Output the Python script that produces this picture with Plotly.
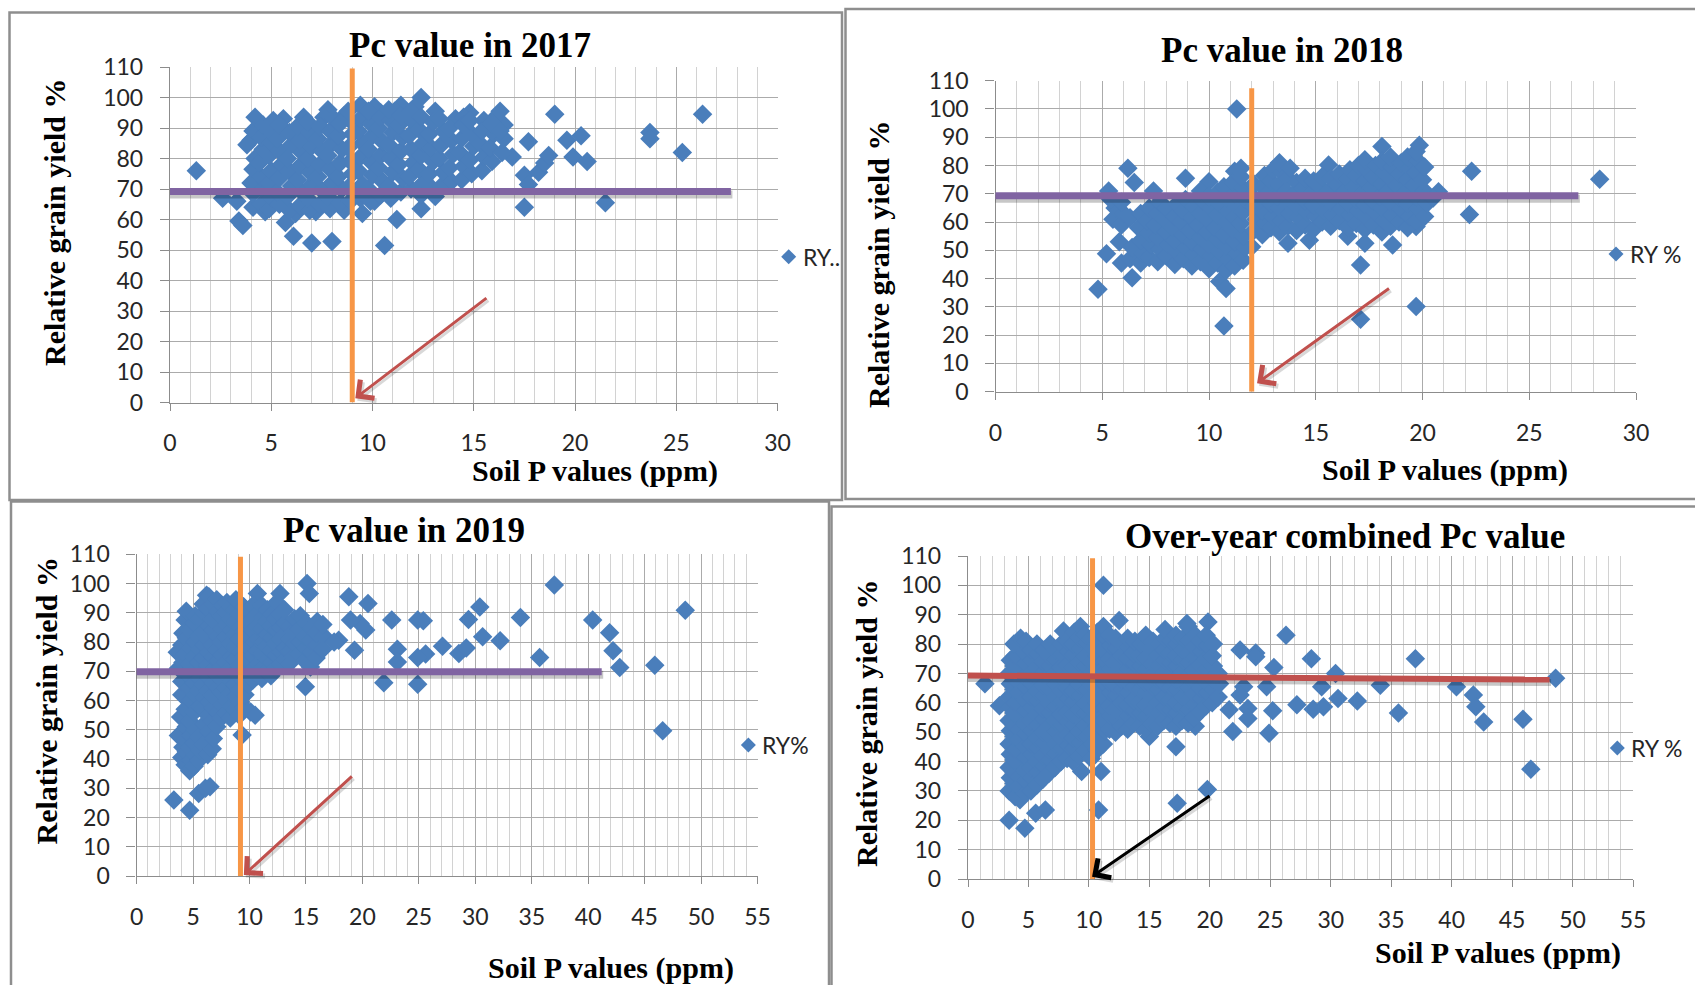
import plotly.graph_objects as go

W, H = 1695, 985

# ---------------------------------------------------------------
# Data: (soil P value in ppm, relative grain yield in %)
# ---------------------------------------------------------------
ry_2017 = [
    (1.3, 76.0), (2.6, 67.0), (3.3, 66.0), (3.4, 59.5), (3.6, 58.0), (3.8, 84.5), (4.0, 86.0), (4.2, 93.5),
    (5.7, 59.0), (6.1, 54.5), (7.0, 52.3), (8.0, 52.8), (7.8, 96.0), (9.4, 97.5), (10.4, 95.0), (11.4, 97.5),
    (12.4, 100.0), (9.5, 62.0), (10.6, 51.5), (11.2, 60.0), (12.4, 63.5), (13.1, 67.5), (14.1, 93.0), (14.8, 95.0),
    (16.3, 95.5), (16.5, 91.0), (16.9, 80.5), (17.5, 74.5), (17.7, 71.5), (17.5, 64.0), (17.7, 85.5), (18.2, 75.5),
    (18.5, 78.5), (18.7, 81.0), (19.0, 94.5), (19.6, 86.0), (19.9, 80.5), (20.3, 87.5), (20.6, 79.0), (21.5, 65.5),
    (23.7, 88.5), (23.7, 86.5), (25.3, 82.0), (26.3, 94.5),
    (5.6, 93.0), (6.6, 93.5), (7.6, 93.5), (8.6, 94.0), (10.1, 97.0), (11.1, 95.5), (12.1, 97.0), (13.1, 95.5),
    (14.5, 93.5), (15.5, 92.5), (16.0, 93.0), (4.7, 62.5), (6.2, 62.0), (7.2, 62.5), (8.6, 63.0), (10.1, 66.0),
    (4.1, 64.0), (4.1, 68.5), (4.0, 72.0), (4.1, 76.5), (4.2, 80.0), (4.1, 89.0),
    (4.5, 65.0), (4.6, 70.0), (4.5, 74.0), (4.4, 78.5), (4.6, 83.0), (4.5, 87.0), (4.6, 91.0),
    (4.9, 63.5), (5.0, 67.0), (4.9, 72.0), (5.0, 76.0), (4.9, 81.0), (5.0, 85.0), (4.9, 89.5), (5.1, 92.5),
    (5.4, 65.0), (5.3, 69.0), (5.4, 73.5), (5.5, 78.0), (5.4, 82.5), (5.3, 86.5), (5.4, 91.0),
    (5.9, 63.0), (5.8, 67.5), (6.0, 71.0), (5.9, 76.0), (5.8, 80.0), (6.0, 84.5), (5.9, 88.5),
    (6.4, 64.5), (6.5, 69.0), (6.3, 73.0), (6.4, 77.5), (6.5, 82.0), (6.4, 86.0), (6.3, 90.5),
    (6.9, 63.0), (6.8, 67.0), (7.0, 71.5), (6.9, 75.5), (6.8, 80.0), (7.0, 84.0), (6.9, 88.5), (6.8, 92.0),
    (7.4, 65.0), (7.5, 69.5), (7.3, 74.0), (7.4, 78.0), (7.5, 82.5), (7.3, 86.5), (7.4, 90.5),
    (7.9, 63.5), (7.8, 67.5), (8.0, 72.0), (7.9, 76.5), (7.8, 81.0), (8.0, 85.0), (7.9, 89.0), (8.1, 93.0),
    (8.4, 65.5), (8.5, 70.0), (8.3, 74.0), (8.4, 78.5), (8.5, 83.0), (8.3, 87.5), (8.4, 91.5),
    (8.9, 66.0), (8.8, 70.5), (9.0, 75.0), (8.9, 79.0), (8.8, 83.5), (9.0, 88.0), (8.9, 92.5), (8.8, 95.5),
    (9.4, 67.0), (9.5, 71.5), (9.3, 76.0), (9.4, 80.5), (9.5, 85.0), (9.3, 89.0), (9.4, 93.0),
    (9.9, 66.0), (9.8, 70.0), (10.0, 74.5), (9.9, 79.0), (9.8, 83.0), (10.0, 87.5), (9.9, 91.5), (9.8, 95.5),
    (10.4, 68.0), (10.5, 72.5), (10.3, 77.0), (10.4, 81.0), (10.5, 85.5), (10.3, 90.0), (10.4, 93.5),
    (10.9, 67.0), (10.8, 71.0), (11.0, 75.5), (10.9, 80.0), (10.8, 84.5), (11.0, 88.5), (10.9, 92.5), (10.8, 96.0),
    (11.4, 69.0), (11.5, 73.5), (11.3, 78.0), (11.4, 82.5), (11.5, 87.0), (11.3, 91.0), (11.4, 94.0),
    (11.9, 70.0), (11.8, 74.0), (12.0, 78.5), (11.9, 83.0), (11.8, 87.5), (12.0, 92.0), (11.9, 95.5),
    (12.4, 68.0), (12.5, 72.0), (12.3, 76.5), (12.4, 81.0), (12.5, 85.0), (12.3, 89.5), (12.4, 93.5),
    (12.9, 70.5), (12.8, 75.0), (13.0, 79.0), (12.9, 83.5), (12.8, 88.0), (13.0, 92.0),
    (13.4, 71.0), (13.5, 75.5), (13.3, 80.0), (13.4, 84.5), (13.5, 89.0), (13.3, 93.0),
    (13.9, 72.5), (13.8, 77.0), (14.0, 81.5), (13.9, 86.0), (13.8, 90.0),
    (14.4, 73.0), (14.5, 77.5), (14.3, 82.0), (14.4, 86.5), (14.5, 91.0),
    (14.9, 75.0), (14.8, 79.5), (15.0, 84.0), (14.9, 88.0), (14.8, 92.5),
    (15.4, 76.0), (15.5, 80.5), (15.3, 85.0), (15.4, 89.0),
    (15.9, 79.0), (15.8, 83.5), (16.0, 88.0), (15.9, 91.5),
    (16.4, 82.0), (16.5, 86.5), (16.3, 89.0),
]

ry_2018 = [
    (4.8, 36.2), (5.2, 48.8), (5.3, 71.0), (5.9, 45.5), (5.8, 53.0), (6.2, 79.0), (6.5, 74.0), (6.4, 40.3),
    (7.4, 71.0), (8.9, 75.5), (10.0, 74.3), (10.5, 39.0), (10.8, 36.5), (10.7, 23.2), (11.3, 100.0), (11.2, 78.0),
    (11.5, 79.0), (12.0, 51.3), (13.7, 52.5), (14.7, 53.6), (15.6, 80.2), (16.5, 55.0), (17.1, 44.8), (17.3, 52.5),
    (17.1, 25.6), (18.1, 86.7), (18.6, 51.9), (19.7, 58.4), (19.7, 30.1), (19.85, 87.2), (20.75, 70.7), (22.3, 78.0),
    (22.2, 62.7), (28.3, 75.1),
    (5.5, 61.0), (5.6, 65.0), (5.4, 68.0),
    (5.9, 59.0), (6.0, 63.0), (5.9, 67.0),
    (6.3, 47.0), (6.4, 51.0), (6.3, 61.5),
    (6.8, 45.5), (6.9, 49.0), (6.8, 53.5), (6.7, 58.0), (6.8, 63.0),
    (7.2, 47.5), (7.3, 52.0), (7.2, 56.0), (7.1, 60.5), (7.2, 65.0),
    (7.6, 46.0), (7.7, 50.5), (7.6, 54.5), (7.5, 59.0), (7.6, 63.0), (7.7, 67.0),
    (8.0, 48.0), (8.1, 52.0), (8.0, 56.5), (7.9, 61.0), (8.0, 65.0),
    (8.4, 45.0), (8.5, 49.5), (8.4, 53.5), (8.3, 58.0), (8.4, 62.0), (8.5, 66.5),
    (8.8, 47.0), (8.9, 51.0), (8.8, 55.5), (8.7, 60.0), (8.8, 64.0), (8.9, 68.0),
    (9.2, 44.5), (9.3, 48.5), (9.2, 53.0), (9.1, 57.0), (9.2, 61.5), (9.3, 65.5),
    (9.6, 46.0), (9.7, 50.5), (9.6, 54.5), (9.5, 59.0), (9.6, 63.0), (9.7, 67.5), (9.6, 71.0),
    (10.0, 43.5), (10.1, 48.0), (10.0, 52.0), (9.9, 56.5), (10.0, 60.5), (10.1, 65.0), (10.0, 69.0),
    (10.4, 45.5), (10.5, 49.5), (10.4, 54.0), (10.3, 58.0), (10.4, 62.5), (10.5, 66.5), (10.4, 70.5),
    (10.8, 43.0), (10.9, 47.0), (10.8, 51.5), (10.7, 55.5), (10.8, 60.0), (10.9, 64.0), (10.8, 68.5), (10.7, 72.5),
    (11.2, 44.5), (11.3, 49.0), (11.2, 53.0), (11.1, 57.5), (11.2, 61.5), (11.3, 66.0), (11.2, 70.0), (11.1, 74.0),
    (11.6, 46.5), (11.7, 51.0), (11.6, 55.0), (11.5, 59.5), (11.6, 63.5), (11.7, 68.0), (11.6, 72.0), (11.5, 76.0),
    (12.1, 57.0), (12.2, 61.0), (12.1, 65.5), (12.0, 69.5), (12.1, 73.5),
    (12.5, 55.5), (12.6, 59.5), (12.5, 64.0), (12.4, 68.0), (12.5, 72.5), (12.6, 76.5),
    (12.9, 58.0), (13.0, 62.0), (12.9, 66.5), (12.8, 70.5), (12.9, 74.5), (13.0, 78.5),
    (13.3, 56.5), (13.4, 60.5), (13.3, 65.0), (13.2, 69.0), (13.3, 73.0), (13.4, 77.5), (13.3, 81.0),
    (13.7, 58.5), (13.8, 63.0), (13.7, 67.0), (13.6, 71.0), (13.7, 75.5), (13.8, 79.0),
    (14.1, 57.0), (14.2, 61.5), (14.1, 65.5), (14.0, 70.0), (14.1, 74.0),
    (14.5, 59.0), (14.6, 63.5), (14.5, 67.5), (14.4, 72.0), (14.5, 75.5),
    (14.9, 57.5), (15.0, 62.0), (14.9, 66.0), (14.8, 70.5), (14.9, 74.5),
    (15.3, 60.0), (15.4, 64.0), (15.3, 68.5), (15.2, 72.5), (15.3, 76.0),
    (15.7, 58.5), (15.8, 62.5), (15.7, 67.0), (15.6, 71.0), (15.7, 75.5),
    (16.1, 60.5), (16.2, 64.5), (16.1, 69.0), (16.0, 73.0), (16.1, 77.0),
    (16.5, 58.0), (16.6, 62.5), (16.5, 66.5), (16.4, 71.0), (16.5, 75.0), (16.6, 78.5),
    (16.9, 59.5), (17.0, 64.0), (16.9, 68.0), (16.8, 72.5), (16.9, 76.5), (17.0, 80.0),
    (17.3, 57.5), (17.4, 61.5), (17.3, 66.0), (17.2, 70.0), (17.3, 74.5), (17.4, 78.5), (17.3, 82.0),
    (17.7, 59.0), (17.8, 63.5), (17.7, 67.5), (17.6, 72.0), (17.7, 76.0), (17.8, 80.0),
    (18.1, 56.5), (18.2, 60.5), (18.1, 65.0), (18.0, 69.0), (18.1, 73.5), (18.2, 77.5), (18.1, 81.5),
    (18.5, 58.5), (18.6, 62.5), (18.5, 67.0), (18.4, 71.0), (18.5, 75.5), (18.6, 79.5), (18.5, 83.0),
    (18.9, 60.0), (19.0, 64.5), (18.9, 68.5), (18.8, 73.0), (18.9, 77.0), (19.0, 81.0),
    (19.3, 58.0), (19.4, 62.0), (19.3, 66.5), (19.2, 70.5), (19.3, 75.0), (19.4, 79.0), (19.3, 83.0),
    (19.7, 60.5), (19.8, 64.5), (19.7, 69.0), (19.6, 73.0), (19.7, 77.5), (19.8, 81.5), (19.7, 85.0),
    (20.1, 62.0), (20.2, 66.5), (20.1, 71.0), (20.0, 75.0), (20.1, 79.5),
    (20.5, 68.5),
]

ry_2019 = [
    (3.3, 26.0), (4.7, 22.5), (5.5, 28.2), (6.1, 30.0), (6.5, 30.5), (3.9, 54.4), (9.35, 48.2), (10.1, 56.1),
    (10.5, 55.0), (6.2, 96.0), (10.7, 96.6), (12.7, 96.6), (15.1, 100.0), (15.3, 96.6), (14.95, 64.7), (18.8, 95.5),
    (20.5, 93.2), (19.8, 86.3), (20.3, 84.1), (19.3, 77.2), (18.95, 87.5), (17.9, 80.6), (22.6, 87.5), (23.1, 77.5),
    (23.1, 73.2), (21.9, 66.1), (24.9, 87.5), (25.4, 87.3), (25.6, 75.9), (24.9, 74.7), (24.9, 65.6), (27.1, 78.6),
    (28.55, 76.1), (29.2, 78.0), (29.4, 87.7), (30.4, 92.0), (30.65, 81.8), (32.2, 80.4), (34.0, 88.4), (35.7, 74.7),
    (37.0, 99.5), (40.4, 87.5), (41.9, 83.2), (42.2, 77.0), (42.8, 71.3), (45.9, 72.1), (46.6, 49.7), (48.6, 90.9),
    (3.7, 48.0), (3.7, 71.0), (3.6, 76.5),
    (4.0, 40.5), (4.1, 44.0), (4.0, 62.0), (4.0, 66.5), (4.1, 73.0), (4.0, 79.0), (4.1, 83.0),
    (4.3, 38.0), (4.4, 42.5), (4.3, 46.5), (4.4, 51.0), (4.3, 57.0), (4.4, 69.5), (4.3, 76.0), (4.4, 81.5), (4.3, 87.5), (4.4, 90.5),
    (4.7, 36.0), (4.8, 39.5), (4.7, 44.0), (4.8, 48.0), (4.7, 53.0), (4.8, 60.0), (4.7, 64.5), (4.8, 68.0), (4.7, 72.5), (4.8, 78.0), (4.7, 84.0),
    (5.1, 37.5), (5.2, 41.5), (5.1, 45.5), (5.2, 50.0), (5.1, 56.0), (5.2, 62.0), (5.1, 66.0), (5.2, 70.5), (5.1, 75.0), (5.2, 80.0), (5.1, 86.5), (5.2, 89.0),
    (5.5, 39.5), (5.6, 43.0), (5.5, 47.5), (5.6, 58.0), (5.5, 63.5), (5.6, 67.5), (5.5, 73.0), (5.6, 77.5), (5.5, 82.0), (5.6, 88.0),
    (5.9, 45.0), (6.0, 52.0), (5.9, 57.0), (6.0, 61.0), (5.9, 65.5), (6.0, 70.0), (5.9, 74.5), (6.0, 79.0), (5.9, 83.5), (6.0, 90.0), (5.9, 93.0),
    (6.3, 41.5), (6.4, 49.5), (6.3, 55.0), (6.4, 59.5), (6.3, 63.5), (6.4, 68.0), (6.3, 72.0), (6.4, 76.5), (6.3, 81.0), (6.4, 85.5), (6.3, 91.5), (6.4, 95.5),
    (6.7, 43.5), (6.8, 47.0), (6.7, 53.0), (6.8, 57.5), (6.7, 62.0), (6.8, 66.0), (6.7, 70.5), (6.8, 75.0), (6.7, 79.0), (6.8, 84.0), (6.7, 88.0), (6.8, 93.0),
    (7.1, 51.0), (7.2, 56.0), (7.1, 60.5), (7.2, 64.5), (7.1, 69.0), (7.2, 73.5), (7.1, 77.5), (7.2, 82.0), (7.1, 86.5), (7.2, 90.5), (7.1, 94.5),
    (7.5, 54.0), (7.6, 58.5), (7.5, 63.0), (7.6, 67.0), (7.5, 71.5), (7.6, 75.5), (7.5, 80.0), (7.6, 84.5), (7.5, 89.0), (7.6, 92.5),
    (7.9, 55.5), (8.0, 60.0), (7.9, 64.5), (8.0, 68.5), (7.9, 73.0), (8.0, 77.0), (7.9, 81.5), (8.0, 86.0), (7.9, 90.0), (8.0, 93.5),
    (8.3, 54.0), (8.4, 58.0), (8.3, 62.5), (8.4, 66.5), (8.3, 71.0), (8.4, 75.0), (8.3, 79.5), (8.4, 84.0), (8.3, 88.0), (8.4, 92.0),
    (8.7, 57.0), (8.8, 61.5), (8.7, 65.5), (8.8, 70.0), (8.7, 74.0), (8.8, 78.5), (8.7, 82.5), (8.8, 87.0), (8.7, 91.0), (8.8, 94.5),
    (9.1, 55.0), (9.2, 59.5), (9.1, 63.5), (9.2, 68.0), (9.1, 72.0), (9.2, 76.5), (9.1, 81.0), (9.2, 85.0), (9.1, 89.5), (9.2, 93.0),
    (9.5, 57.5), (9.6, 62.0), (9.5, 66.5), (9.6, 70.5), (9.5, 75.0), (9.6, 79.0), (9.5, 83.5), (9.6, 88.0), (9.5, 92.0),
    (9.9, 65.5), (10.0, 69.0), (9.9, 73.5), (10.0, 78.0), (9.9, 82.0), (10.0, 86.5), (9.9, 90.5),
    (10.3, 67.0), (10.4, 71.0), (10.3, 75.5), (10.4, 80.0), (10.3, 84.0), (10.4, 88.5), (10.3, 92.5),
    (10.7, 68.5), (10.8, 72.5), (10.7, 77.0), (10.8, 81.0), (10.7, 85.5), (10.8, 90.0),
    (11.1, 67.5), (11.2, 71.5), (11.1, 76.0), (11.2, 80.0), (11.1, 84.5), (11.2, 88.5), (11.1, 92.5),
    (11.5, 70.0), (11.6, 74.0), (11.5, 78.5), (11.6, 82.5), (11.5, 87.0), (11.6, 91.0),
    (11.9, 68.5), (12.0, 73.0), (11.9, 77.0), (12.0, 81.5), (11.9, 85.5), (12.0, 89.5),
    (12.3, 71.0), (12.4, 75.5), (12.3, 79.5), (12.4, 84.0), (12.3, 88.0), (12.4, 93.5),
    (12.7, 72.5), (12.8, 76.5), (12.7, 81.0), (12.8, 85.0), (12.7, 89.5),
    (13.1, 74.0), (13.2, 78.0), (13.1, 82.5), (13.2, 86.5), (13.1, 91.0),
    (13.5, 72.5), (13.6, 77.0), (13.5, 81.0), (13.6, 85.5),
    (13.9, 75.0), (14.0, 79.5), (13.9, 83.5), (14.0, 88.0),
    (14.4, 76.0), (14.5, 80.0), (14.4, 84.5), (14.5, 89.0),
    (14.9, 73.5), (15.0, 78.0), (14.9, 82.0), (15.0, 86.5),
    (15.4, 71.5), (15.5, 76.5), (15.4, 80.5), (15.5, 85.0),
    (15.9, 74.5), (16.0, 79.0), (15.9, 83.0), (16.0, 87.0),
    (16.5, 77.5), (16.6, 82.0), (16.5, 86.0),
    (17.5, 80.0),
]

ry_all = [
    (1.4, 66.5), (2.6, 59.0), (3.4, 20.0), (4.7, 17.3), (5.6, 22.4), (6.4, 23.5), (10.8, 23.5), (17.3, 25.8),
    (19.8, 30.5), (9.4, 36.6), (11.0, 36.6), (11.2, 100.0), (12.5, 88.0), (18.1, 87.0), (19.85, 87.5), (15.0, 48.5),
    (17.2, 45.0), (18.8, 52.0), (22.5, 78.0), (23.8, 77.0), (23.8, 75.7), (26.3, 83.0), (28.4, 75.0), (37.0, 75.0),
    (48.6, 68.4), (25.3, 72.0), (30.4, 70.0), (34.1, 66.0), (40.4, 65.5), (41.8, 62.7), (42.0, 58.7), (42.65, 53.5),
    (45.9, 54.4), (46.55, 37.4), (35.6, 56.5), (32.2, 60.6), (30.6, 61.5), (29.25, 65.5), (29.4, 58.7), (28.55, 57.8),
    (27.2, 59.3), (24.7, 65.5), (25.2, 57.3), (24.9, 49.6), (22.8, 65.5), (22.5, 62.7), (23.15, 58.1), (23.15, 54.7),
    (21.6, 57.6), (21.9, 50.2),
    (3.4, 30.0), (3.5, 34.5), (3.4, 38.0), (3.5, 42.5), (3.4, 46.0), (3.5, 50.5), (3.4, 54.0), (3.5, 58.5), (3.4, 62.0), (3.5, 66.5), (3.4, 70.0), (3.5, 74.5),
    (3.9, 28.0), (3.8, 32.5), (3.9, 36.0), (3.8, 40.5), (3.9, 44.0), (3.8, 48.5), (3.9, 52.0), (3.8, 56.5), (3.9, 60.0), (3.8, 64.5), (3.9, 68.0), (3.8, 72.5), (3.9, 76.0), (3.8, 80.0),
    (4.3, 27.0), (4.2, 31.5), (4.3, 35.0), (4.2, 39.5), (4.3, 43.0), (4.2, 47.5), (4.3, 51.0), (4.2, 55.5), (4.3, 59.0), (4.2, 63.5), (4.3, 67.0), (4.2, 71.5), (4.3, 75.0), (4.2, 79.0), (4.35, 82.0),
    (4.7, 29.0), (4.8, 33.5), (4.7, 37.0), (4.8, 41.5), (4.7, 45.0), (4.8, 49.5), (4.7, 53.0), (4.8, 57.5), (4.7, 61.0), (4.8, 65.5), (4.7, 69.0), (4.8, 73.5), (4.7, 77.0), (4.8, 81.0),
    (5.2, 30.0), (5.3, 34.5), (5.2, 38.0), (5.3, 42.5), (5.2, 46.0), (5.3, 50.5), (5.2, 54.0), (5.3, 58.5), (5.2, 62.0), (5.3, 66.5), (5.2, 70.0), (5.3, 74.5), (5.2, 78.0),
    (5.7, 32.0), (5.8, 36.5), (5.7, 40.0), (5.8, 44.5), (5.7, 48.0), (5.8, 52.5), (5.7, 56.0), (5.8, 60.5), (5.7, 64.0), (5.8, 68.5), (5.7, 72.0), (5.8, 76.5), (5.7, 80.0),
    (6.2, 34.0), (6.3, 38.5), (6.2, 42.0), (6.3, 46.5), (6.2, 50.0), (6.3, 54.5), (6.2, 58.0), (6.3, 62.5), (6.2, 66.0), (6.3, 70.5), (6.2, 74.0), (6.3, 78.0),
    (6.7, 36.0), (6.8, 40.5), (6.7, 44.0), (6.8, 48.5), (6.7, 52.0), (6.8, 56.5), (6.7, 60.0), (6.8, 64.5), (6.7, 68.0), (6.8, 72.5), (6.7, 76.0), (6.8, 80.0),
    (7.2, 38.0), (7.3, 42.5), (7.2, 46.0), (7.3, 50.5), (7.2, 54.0), (7.3, 58.5), (7.2, 62.0), (7.3, 66.5), (7.2, 70.0), (7.3, 74.5), (7.2, 78.0),
    (7.7, 40.0), (7.8, 44.5), (7.7, 48.0), (7.8, 52.5), (7.7, 56.0), (7.8, 60.5), (7.7, 64.0), (7.8, 68.5), (7.7, 72.0), (7.8, 76.5), (7.7, 80.0), (7.9, 84.5),
    (8.2, 41.0), (8.3, 45.5), (8.2, 49.0), (8.3, 53.5), (8.2, 57.0), (8.3, 61.5), (8.2, 65.0), (8.3, 69.5), (8.2, 73.0), (8.3, 77.5), (8.2, 81.0),
    (8.7, 40.0), (8.8, 44.5), (8.7, 48.0), (8.8, 52.5), (8.7, 56.0), (8.8, 60.5), (8.7, 64.0), (8.8, 68.5), (8.7, 72.0), (8.8, 76.5), (8.7, 80.0), (8.8, 84.0),
    (9.2, 42.0), (9.3, 46.5), (9.2, 50.0), (9.3, 54.5), (9.2, 58.0), (9.3, 62.5), (9.2, 66.0), (9.3, 70.5), (9.2, 74.0), (9.3, 78.5), (9.2, 82.0), (9.3, 86.0),
    (9.7, 44.0), (9.8, 48.5), (9.7, 52.0), (9.8, 56.5), (9.7, 60.0), (9.8, 64.5), (9.7, 68.0), (9.8, 72.5), (9.7, 76.0), (9.8, 80.5), (9.7, 83.0),
    (10.2, 41.0), (10.3, 46.0), (10.2, 50.0), (10.3, 54.5), (10.2, 58.0), (10.3, 62.5), (10.2, 66.0), (10.3, 70.5), (10.2, 74.0), (10.3, 78.5), (10.2, 82.0),
    (10.7, 44.0), (10.8, 48.5), (10.7, 52.0), (10.8, 56.5), (10.7, 60.0), (10.8, 64.5), (10.7, 68.0), (10.8, 72.5), (10.7, 76.0), (10.8, 80.5), (10.7, 84.0),
    (11.2, 46.0), (11.3, 50.5), (11.2, 54.0), (11.3, 58.5), (11.2, 62.0), (11.3, 66.5), (11.2, 70.0), (11.3, 74.5), (11.2, 78.0), (11.3, 82.5), (11.2, 86.0),
    (11.7, 51.0), (11.8, 55.5), (11.7, 59.0), (11.8, 63.5), (11.7, 67.0), (11.8, 71.5), (11.7, 75.0), (11.8, 79.5), (11.7, 83.0),
    (12.2, 50.0), (12.3, 54.5), (12.2, 58.0), (12.3, 62.5), (12.2, 66.0), (12.3, 70.5), (12.2, 74.0), (12.3, 78.5), (12.2, 82.0),
    (12.7, 52.0), (12.8, 56.5), (12.7, 60.0), (12.8, 64.5), (12.7, 68.0), (12.8, 72.5), (12.7, 76.0), (12.8, 80.0),
    (13.2, 51.0), (13.3, 55.5), (13.2, 59.0), (13.3, 63.5), (13.2, 67.0), (13.3, 71.5), (13.2, 75.0), (13.3, 79.0), (13.2, 82.0),
    (13.7, 53.0), (13.8, 57.5), (13.7, 61.0), (13.8, 65.5), (13.7, 69.0), (13.8, 73.5), (13.7, 77.0), (13.8, 81.0),
    (14.2, 52.0), (14.3, 56.5), (14.2, 60.0), (14.3, 64.5), (14.2, 68.0), (14.3, 72.5), (14.2, 76.0), (14.3, 80.0),
    (14.7, 51.0), (14.8, 55.5), (14.7, 59.0), (14.8, 63.5), (14.7, 67.0), (14.8, 71.5), (14.7, 75.0), (14.8, 79.5), (14.7, 83.0),
    (15.2, 53.0), (15.3, 57.5), (15.2, 61.0), (15.3, 65.5), (15.2, 69.0), (15.3, 73.5), (15.2, 77.0), (15.3, 81.0),
    (15.7, 52.0), (15.8, 56.5), (15.7, 60.0), (15.8, 64.5), (15.7, 68.0), (15.8, 72.5), (15.7, 76.0), (15.8, 80.0),
    (16.2, 54.0), (16.3, 58.5), (16.2, 62.0), (16.3, 66.5), (16.2, 70.0), (16.3, 74.5), (16.2, 78.0), (16.3, 82.0), (16.3, 85.0),
    (16.7, 53.0), (16.8, 57.5), (16.7, 61.0), (16.8, 65.5), (16.7, 69.0), (16.8, 73.5), (16.7, 77.0), (16.8, 81.0),
    (17.2, 52.0), (17.3, 56.5), (17.2, 60.0), (17.3, 64.5), (17.2, 68.0), (17.3, 72.5), (17.2, 76.0), (17.3, 80.0), (17.2, 83.0),
    (17.7, 54.0), (17.8, 58.5), (17.7, 62.0), (17.8, 66.5), (17.7, 70.0), (17.8, 74.5), (17.7, 78.0), (17.8, 82.0),
    (18.2, 53.0), (18.3, 57.5), (18.2, 61.0), (18.3, 65.5), (18.2, 69.0), (18.3, 73.5), (18.2, 77.0), (18.3, 81.0), (18.2, 86.0),
    (18.7, 55.0), (18.8, 59.5), (18.7, 63.0), (18.8, 67.5), (18.7, 71.0), (18.8, 75.5), (18.7, 79.0), (18.8, 83.0),
    (19.2, 57.0), (19.3, 61.5), (19.2, 65.0), (19.3, 69.5), (19.2, 73.0), (19.3, 77.5), (19.2, 81.0),
    (19.7, 59.0), (19.8, 63.5), (19.7, 67.0), (19.8, 71.5), (19.7, 75.0), (19.8, 79.5), (19.7, 83.0),
    (20.2, 60.0), (20.3, 64.5), (20.2, 68.0), (20.3, 72.5), (20.2, 76.0), (20.3, 80.0),
    (20.7, 62.0), (20.8, 66.5), (20.7, 70.0),
]

# Critical P (Pc) value and the relative-yield threshold line of each panel
pc_2017, pc_2018, pc_2019, pc_all = 9.0, 12.0, 9.2, 10.3
ry_cut_2017 = (69.2, 69.2)
ry_cut_2018 = (69.3, 69.3)
ry_cut_2019 = (69.8, 69.8)
ry_cut_all = (69.3, 67.9)

x_ticks_30 = [0, 5, 10, 15, 20, 25, 30]
x_ticks_55 = [0, 5, 10, 15, 20, 25, 30, 35, 40, 45, 50, 55]
y_ticks = [0, 10, 20, 30, 40, 50, 60, 70, 80, 90, 100, 110]

# ---------------------------------------------------------------
# Styling
# ---------------------------------------------------------------
BLUE = "#4A7EBB"
ORANGE = "#F79646"
PURPLE = "#8064A2"
RED = "#C0504D"
GRID_MAJOR = "#ABABAB"
GRID_MINOR = "#D2D2D2"
AXIS = "#8C8C8C"
FRAME = "#8E8E8E"
TICK_FONT = dict(family="Lato, 'Open Sans', sans-serif", size=23, color="#262626")
SERIF = "'Liberation Serif', 'Times New Roman', serif"


def fx(px):
    return px / W


def fy(py):
    return 1 - py / H


panels = [
    dict(pts=ry_2017, xticks=x_ticks_30, box=(170, 67, 777.5, 402.5),
         title="Pc value in 2017", title_xy=(470, 45),
         ytitle_xy=(54, 223), xtitle_xy=(595, 471),
         leg_xy=(788.7, 256.7), leg_text="RY..",
         pc=pc_2017, pc_top=109.5, cut=ry_cut_2017, cut_x=(-0.2, 27.7), cut_color=PURPLE, cut_w=7,
         cut_on_top=False, arrow=((15.7, 34.6), (9.15, 1.4)), arrow_color=RED),
    dict(pts=ry_2018, xticks=x_ticks_30, box=(995.5, 80.7, 1636, 391.7),
         title="Pc value in 2018", title_xy=(1282, 50),
         ytitle_xy=(878, 265), xtitle_xy=(1445, 470),
         leg_xy=(1616, 254), leg_text="RY %",
         pc=pc_2018, pc_top=107.3, cut=ry_cut_2018, cut_x=(-0.2, 27.3), cut_color=PURPLE, cut_w=7,
         cut_on_top=False, arrow=((18.5, 36.9), (12.25, 3.0)), arrow_color=RED),
    dict(pts=ry_2019, xticks=x_ticks_55, box=(136.6, 554.3, 757.5, 876),
         title="Pc value in 2019", title_xy=(404, 530),
         ytitle_xy=(45.5, 701), xtitle_xy=(611, 968),
         leg_xy=(748.4, 745), leg_text="RY%",
         pc=pc_2019, pc_top=109.2, cut=ry_cut_2019, cut_x=(-0.2, 41.2), cut_color=PURPLE, cut_w=7,
         cut_on_top=False, arrow=((19.2, 34.5), (9.5, 0.3)), arrow_color=RED),
    dict(pts=ry_all, xticks=x_ticks_55, box=(968, 556, 1633, 879),
         title="Over-year combined Pc value", title_xy=(1345, 536),
         ytitle_xy=(866, 723), xtitle_xy=(1498, 953),
         leg_xy=(1617.3, 748), leg_text="RY %",
         pc=pc_all, pc_top=109.2, cut=ry_cut_all, cut_x=(-0.2, 48.1), cut_color=RED, cut_w=6,
         cut_on_top=True, arrow=((20.1, 28.6), (10.26, 0.8)), arrow_color="#000000"),
]

fig = go.Figure()
shapes = []
annotations = []
layout_axes = {}

# Panel frames
frames = [(9.5, 12.5, 842, 500), (845.5, 9, 1698, 499), (11, 501.5, 829, 992), (831.5, 506.5, 1698, 992)]
for (l, t, r, b) in frames:
    shapes.append(dict(type="rect", xref="paper", yref="paper", x0=fx(l), x1=fx(r), y0=fy(b), y1=fy(t),
                       line=dict(color=FRAME, width=2.5), fillcolor="rgba(0,0,0,0)", layer="below"))

for i, p in enumerate(panels):
    n = "" if i == 0 else str(i + 1)
    xr, yr = "x" + n, "y" + n
    l, t, r, b = p["box"]
    xmax = p["xticks"][-1]
    y_unit_px = (b - t) / 110.0
    x_unit_px = (r - l) / xmax

    layout_axes["xaxis" + n] = dict(
        domain=[fx(l), fx(r)], range=[0, xmax], anchor=yr, tickmode="array", tickvals=p["xticks"],
        showgrid=True, gridcolor=GRID_MAJOR, gridwidth=1, zeroline=False, automargin=False,
        showline=True, linecolor=AXIS, linewidth=1.4, ticks="outside", ticklen=7, tickcolor=AXIS,
        tickwidth=1.2, tickfont=TICK_FONT, ticklabelstandoff=13, fixedrange=True,
        minor=dict(dtick=1, tick0=0, showgrid=True, gridcolor=GRID_MINOR, gridwidth=1, ticks=""),
    )
    layout_axes["yaxis" + n] = dict(
        domain=[fy(b), fy(t)], range=[0, 110], anchor=xr, tickmode="array", tickvals=y_ticks,
        showgrid=True, gridcolor=GRID_MAJOR, gridwidth=1.2, zeroline=False, automargin=False,
        showline=True, linecolor=AXIS, linewidth=1.4, ticks="outside", ticklen=9, tickcolor=AXIS,
        tickwidth=1.2, tickfont=TICK_FONT, ticklabelstandoff=12, fixedrange=True,
    )

    xs = [q[0] for q in p["pts"]]
    ys = [q[1] for q in p["pts"]]
    fig.add_trace(go.Scatter(
        x=xs, y=ys, xaxis=xr, yaxis=yr, mode="markers", showlegend=False, hoverinfo="skip",
        marker=dict(symbol="diamond", size=15, color=BLUE, line=dict(width=0)),
    ))

    # threshold line (with soft drop shadow) and Pc line
    c0, c1 = p["cut"]
    xa, xb = p["cut_x"]
    sh_dy = 3.0 / y_unit_px
    sh_dx = 1.5 / x_unit_px
    cut_shadow = dict(type="line", xref=xr, yref=yr, x0=xa + sh_dx, x1=xb + sh_dx, y0=c0 - sh_dy, y1=c1 - sh_dy,
                      line=dict(color="rgba(0,0,0,0.22)", width=p["cut_w"] + 1))
    cut_line = dict(type="line", xref=xr, yref=yr, x0=xa, x1=xb, y0=c0, y1=c1,
                    line=dict(color=p["cut_color"], width=p["cut_w"]))
    pc_line = dict(type="line", xref=xr, yref=yr, x0=p["pc"], x1=p["pc"], y0=0, y1=p["pc_top"],
                   line=dict(color=ORANGE, width=5))
    if p["cut_on_top"]:
        shapes += [pc_line, cut_shadow, cut_line]
    else:
        shapes += [cut_shadow, cut_line, pc_line]

    # pointer arrow towards the Pc value on the x axis
    (tx, ty), (hx, hy) = p["arrow"]
    annotations.append(dict(x=hx + 2.0 / x_unit_px, y=hy - 2.5 / y_unit_px, ax=tx + 2.0 / x_unit_px,
                            ay=ty - 2.5 / y_unit_px, xref=xr, yref=yr, axref=xr, ayref=yr, text="",
                            showarrow=True, arrowhead=4, arrowsize=1.5, arrowwidth=3,
                            arrowcolor="rgba(0,0,0,0.15)"))
    annotations.append(dict(x=hx, y=hy, ax=tx, ay=ty, xref=xr, yref=yr, axref=xr, ayref=yr, text="",
                            showarrow=True, arrowhead=4, arrowsize=1.5, arrowwidth=3,
                            arrowcolor=p["arrow_color"]))

    # titles
    annotations.append(dict(text="<b>%s</b>" % p["title"], xref="paper", yref="paper",
                            x=fx(p["title_xy"][0]), y=fy(p["title_xy"][1]), xanchor="center", yanchor="middle",
                            showarrow=False, font=dict(family=SERIF, size=35, color="#000000")))
    annotations.append(dict(text="<b>Relative grain yield %</b>", xref="paper", yref="paper",
                            x=fx(p["ytitle_xy"][0]), y=fy(p["ytitle_xy"][1]), xanchor="center",
                            yanchor="middle", textangle=-90, showarrow=False,
                            font=dict(family=SERIF, size=30, color="#000000")))
    annotations.append(dict(text="<b>Soil P values (ppm)</b>", xref="paper", yref="paper",
                            x=fx(p["xtitle_xy"][0]), y=fy(p["xtitle_xy"][1]), xanchor="center",
                            yanchor="middle", showarrow=False,
                            font=dict(family=SERIF, size=30, color="#000000")))

    # legend entry
    lx, ly = p["leg_xy"]
    s = 7.5
    shapes.append(dict(type="path", xref="paper", yref="paper",
                       path="M %f %f L %f %f L %f %f L %f %f Z" % (
                           fx(lx - s), fy(ly), fx(lx), fy(ly - s), fx(lx + s), fy(ly), fx(lx), fy(ly + s)),
                       fillcolor=BLUE, line=dict(width=0)))
    annotations.append(dict(text=p["leg_text"], xref="paper", yref="paper", x=fx(lx + 12), y=fy(ly),
                            xanchor="left", yanchor="middle", showarrow=False,
                            font=dict(family="Lato, 'Open Sans', sans-serif", size=23, color="#262626")))

fig.update_layout(
    width=W, height=H, margin=dict(l=0, r=0, t=0, b=0, autoexpand=False),
    paper_bgcolor="white", plot_bgcolor="white", showlegend=False,
    shapes=shapes, annotations=annotations, **layout_axes,
)

fig.write_html("out.html", config={"displayModeBar": False})
